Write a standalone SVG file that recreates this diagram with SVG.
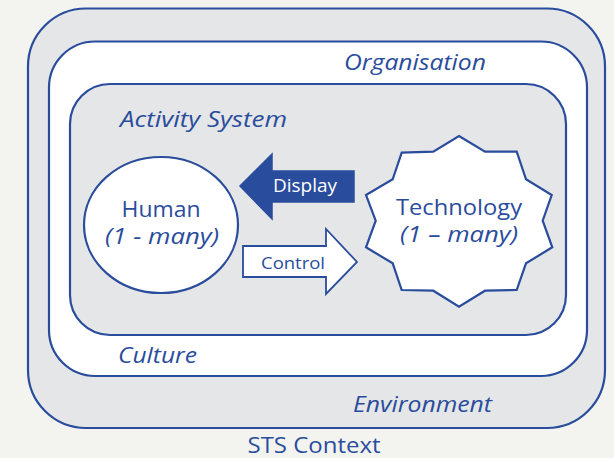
<svg xmlns="http://www.w3.org/2000/svg" width="614" height="458" viewBox="0 0 614 458">
<style>
.frame{stroke:#2a4c9c;stroke-width:2.2}
.grey{fill:#e5e6e8}
.white{fill:#ffffff}
text{font-family:"Open Sans","Liberation Sans",sans-serif;fill:#2a4c9c}
.lbl{font-size:22px;font-style:italic}
.node{font-size:22px;text-anchor:middle}
.it{font-style:italic}
</style>
<rect x="0" y="0" width="614" height="458" fill="#f3f4ef"/>
<g id="environment">
<rect class="frame grey" x="28" y="8.5" width="577" height="419.5" rx="58"/>
<text class="lbl" x="353" y="412" textLength="139" lengthAdjust="spacingAndGlyphs">Environment</text>
</g>
<g id="organisation">
<rect class="frame white" x="49" y="41.5" width="538" height="334.5" rx="46"/>
<text class="lbl" x="344" y="70" textLength="142" lengthAdjust="spacingAndGlyphs">Organisation</text>
<text class="lbl" x="118" y="363" textLength="79" lengthAdjust="spacingAndGlyphs">Culture</text>
</g>
<g id="activity-system">
<rect class="frame grey" x="70" y="84" width="496" height="251" rx="40"/>
<text class="lbl" x="120" y="127" textLength="167" lengthAdjust="spacingAndGlyphs">Activity System</text>
</g>
<g id="human">
<ellipse class="frame white" cx="161" cy="225" rx="77" ry="68"/>
<text class="node" x="161" y="217" textLength="79" lengthAdjust="spacingAndGlyphs">Human</text>
<text class="node it" x="162" y="244" textLength="114" lengthAdjust="spacingAndGlyphs">(1 - many)</text>
</g>
<g id="technology">
<polygon class="frame white" stroke-linejoin="miter" points="459,136 485,151.7 516.7,151.7 526,179.3 551.7,195 542.7,220.7 552.3,247.3 526,263.3 516.7,290 485,290.7 459,306.7 433.3,290.7 401.7,290 392.7,263.3 366,247.3 375.7,220.7 366,195 392.7,179.3 401.7,152.7 433.3,151.7"/>
<text class="node" x="459" y="215" textLength="126" lengthAdjust="spacingAndGlyphs">Technology</text>
<text class="node it" x="459" y="242" textLength="118" lengthAdjust="spacingAndGlyphs">(1 – many)</text>
</g>
<g id="connectors">
<g id="display">
<polygon points="240,186 272,154 272,171 354,171 354,202 272,202 272,219" fill="#2a4c9c" stroke="#2a4c9c" stroke-width="1.5" stroke-linejoin="miter"/>
<text x="305" y="192" font-size="18" text-anchor="middle" textLength="64" lengthAdjust="spacingAndGlyphs" style="fill:#ffffff">Display</text>
</g>
<g id="control">
<polygon points="243,246 326,246 326,229 357,262 326,294 326,277 243,277" fill="#ffffff" stroke="#2a4c9c" stroke-width="1.8" stroke-linejoin="miter"/>
<text x="293" y="269" font-size="17" text-anchor="middle" textLength="64" lengthAdjust="spacingAndGlyphs">Control</text>
</g>
</g>
<text x="314" y="453" font-size="22" text-anchor="middle" textLength="133" lengthAdjust="spacingAndGlyphs">STS Context</text>
</svg>
